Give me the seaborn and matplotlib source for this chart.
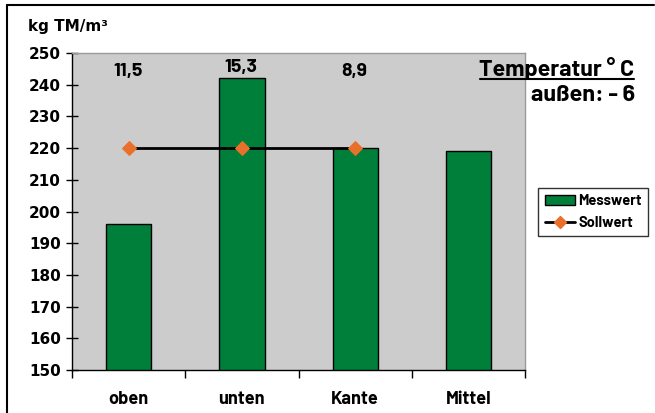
import numpy as np
import pandas as pd
import matplotlib.pyplot as plt
import seaborn as sns
from matplotlib.patches import Patch
from matplotlib.lines import Line2D

# data
kategorien = ['oben', 'unten', 'Kante', 'Mittel']
messwert = [196, 242, 220, 219]
sollwert = [220, 220, 220]
temperaturen = ['11,5', '15,3', '8,9']
temp_y = [244.3, 245.3, 244.3]

gruen = '#007F3A'
orange = '#E8702A'
narrow = ['Barlow', 'DejaVu Sans']

sns.set_style('white')
plt.rcParams['font.family'] = ['DejaVu Sans']
plt.rcParams['text.color'] = 'black'
plt.rcParams['xtick.color'] = 'black'
plt.rcParams['ytick.color'] = 'black'

fig = plt.figure(figsize=(6.55, 4.13), dpi=100)
ax = fig.add_axes([0.110, 0.104, 0.6916, 0.7676])
ax.set_facecolor('#CCCCCC')

df = pd.DataFrame({'Ort': kategorien, 'Wert': messwert})
sns.barplot(data=df, x='Ort', y='Wert', color=gruen, saturation=1,
            width=0.4, edgecolor='black', linewidth=1, ax=ax)

# Sollwert line over the first three categories
sns.lineplot(x=np.arange(len(sollwert)), y=sollwert, color='black', lw=2,
             marker='D', markersize=7, markerfacecolor=orange,
             markeredgecolor=orange, ax=ax)

for i, (t, y) in enumerate(zip(temperaturen, temp_y)):
    ax.text(i - 0.01, y, t, ha='center', va='center', fontsize=14,
            fontweight='bold', family=narrow)

ax.set_ylim(150, 250)
ax.set_xlim(-0.5, len(kategorien) - 0.5)
ax.set_yticks(range(150, 251, 10))
ax.tick_params(axis='y', direction='inout', length=8, width=1,
               labelsize=11, left=True, pad=4)
for lab in ax.get_yticklabels():
    lab.set_fontweight('bold')

ax.set_xticks(range(len(kategorien)))
ax.set_xticklabels(kategorien, fontsize=13, fontweight='bold', family=narrow)
ax.set_xticks(np.arange(-0.5, len(kategorien)), minor=True)
ax.tick_params(axis='x', which='major', length=0, pad=15)
ax.tick_params(axis='x', which='minor', direction='out', length=6,
               width=1, bottom=True)
ax.set_xlabel('')
ax.set_ylabel('')

for s in ['left', 'bottom']:
    ax.spines[s].set_color('black')
    ax.spines[s].set_linewidth(1)
for s in ['top', 'right']:
    ax.spines[s].set_color('#999999')
    ax.spines[s].set_linewidth(1)

fig.text(28 / 655, 1 - 27 / 413, 'kg TM/m³', ha='left', va='center',
         fontsize=11, fontweight='bold')

fig.text(634 / 655, 1 - 68 / 413, 'Temperatur ° C', ha='right', va='center',
         fontsize=16.7, fontweight='bold', family=narrow)
fig.add_artist(Line2D([480 / 655, 634 / 655], [1 - 79 / 413, 1 - 79 / 413],
                      color='black', lw=1.5))
fig.text(635 / 655, 1 - 95 / 413, 'außen: - 6', ha='right', va='center',
         fontsize=16.8, fontweight='bold', family=narrow)

handles = [Patch(facecolor=gruen, edgecolor='black', label='Messwert'),
           Line2D([0], [0], color='black', lw=2, marker='D', markersize=6,
                  markerfacecolor=orange, markeredgecolor=orange,
                  label='Sollwert')]
leg = fig.legend(handles=handles, loc='center left',
                 bbox_to_anchor=(538 / 655, 1 - 212 / 413),
                 prop={'family': narrow, 'weight': 'bold', 'size': 10.5},
                 frameon=True, fancybox=False, edgecolor='black',
                 handlelength=2.1, handletextpad=0.2, borderpad=0.45,
                 labelspacing=0.5, borderaxespad=0)
leg.get_frame().set_linewidth(1)

# outer frame: only top and left edges are drawn
fig.add_artist(Line2D([7 / 655, 654 / 655], [1 - 5 / 413, 1 - 5 / 413],
                      color='black', lw=1.5))
fig.add_artist(Line2D([7 / 655, 7 / 655], [0, 1 - 5 / 413],
                      color='black', lw=1.5))

fig.savefig('out.png', dpi=100)
